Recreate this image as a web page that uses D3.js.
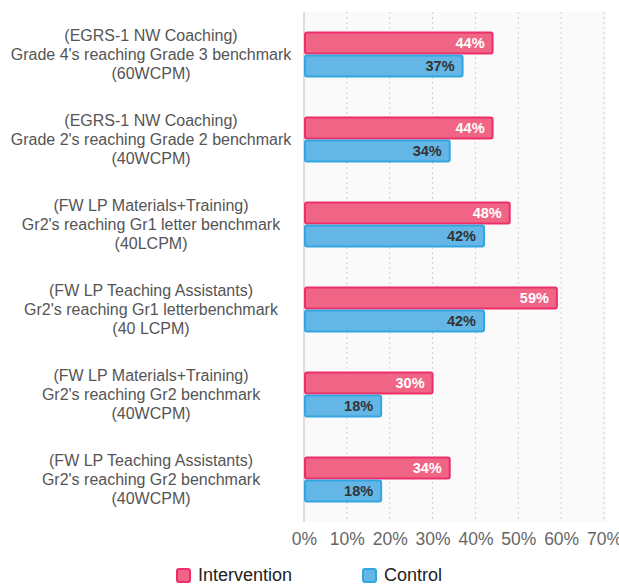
<!DOCTYPE html>
<html lang="en">
<head>
<meta charset="UTF-8">
<title>Benchmark results</title>
<script src="https://cdn.jsdelivr.net/npm/d3@7"></script>
<style>
  body { margin: 0; background: #fff; }
  svg text { font-family: "Liberation Sans", Arial, sans-serif; }
</style>
</head>
<body>
<svg id="chart"></svg>
<script>
const categories = [
  ["(EGRS-1 NW Coaching)", "Grade 4's reaching Grade 3 benchmark", "(60WCPM)"],
  ["(EGRS-1 NW Coaching)", "Grade 2's reaching Grade 2 benchmark", "(40WCPM)"],
  ["(FW LP Materials+Training)", "Gr2's reaching Gr1 letter benchmark", "(40LCPM)"],
  ["(FW LP Teaching Assistants)", "Gr2's reaching Gr1 letterbenchmark", "(40 LCPM)"],
  ["(FW LP Materials+Training)", "Gr2's reaching Gr2 benchmark", "(40WCPM)"],
  ["(FW LP Teaching Assistants)", "Gr2's reaching Gr2 benchmark", "(40WCPM)"]
];
const intervention = [44, 44, 48, 59, 30, 34];
const control = [37, 34, 42, 42, 18, 18];
const xTicks = [0, 10, 20, 30, 40, 50, 60, 70];
const seriesNames = ["Intervention", "Control"];

const W = 619, H = 584;
const margin = { top: 12, right: 13, bottom: 62, left: 304 };
const width = W - margin.left - margin.right;
const height = H - margin.top - margin.bottom;

const svg = d3.select('#chart').attr('width', W).attr('height', H);
const g = svg.append('g').attr('transform', `translate(${margin.left},${margin.top})`);

const x = d3.scaleLinear().domain([0, 70]).range([0, 300]);
const y = d3.scaleBand().domain(d3.range(categories.length)).range([0, height]);
const sub = d3.scaleBand().domain([0, 1]).range([y.bandwidth() / 2 - 22, y.bandwidth() / 2 + 22]).paddingInner(0.08);

g.append('rect')
  .attr('width', x(70) + 2).attr('height', height)
  .attr('fill', '#fafafa');

// dotted gridlines
g.selectAll('.grid')
  .data(xTicks.slice(1))
  .enter().append('line')
  .attr('x1', d => x(d)).attr('x2', d => x(d))
  .attr('y1', 0).attr('y2', height)
  .attr('stroke', '#d0d0d0')
  .attr('stroke-dasharray', '2,3');

g.append('line')
  .attr('x1', 0).attr('x2', 0).attr('y1', 0).attr('y2', height)
  .attr('stroke', '#ddd').attr('stroke-width', 2);

const colors = [
  { fill: '#f06585', stroke: '#ec2f6b', text: '#fff' },
  { fill: '#64b6e6', stroke: '#32a6e0', text: '#333' }
];
const series = [intervention, control];

series.forEach((vals, s) => {
  const grp = g.append('g');
  grp.selectAll('rect')
    .data(vals)
    .enter().append('rect')
    .attr('x', x(0) + 1)
    .attr('y', (d, i) => y(i) + sub(s))
    .attr('width', d => x(d) - x(0) - 1)
    .attr('height', sub.bandwidth())
    .attr('rx', 2)
    .attr('fill', colors[s].fill)
    .attr('stroke', colors[s].stroke)
    .attr('stroke-width', 2);
  grp.selectAll('text')
    .data(vals)
    .enter().append('text')
    .attr('x', d => x(d) - 8)
    .attr('y', (d, i) => y(i) + sub(s) + sub.bandwidth() / 2)
    .attr('dy', '0.36em')
    .attr('text-anchor', 'end')
    .attr('font-size', 14.5)
    .attr('font-weight', 'bold')
    .attr('fill', colors[s].text)
    .text(d => d + '%');
});

// category labels
const labels = g.selectAll('.cat')
  .data(categories)
  .enter().append('text')
  .attr('class', 'cat')
  .attr('text-anchor', 'middle')
  .attr('font-size', 16)
  .attr('fill', '#555')
  .attr('transform', (d, i) => `translate(${151 - margin.left},${y(i) + y.bandwidth() / 2})`);
labels.selectAll('tspan')
  .data(d => d)
  .enter().append('tspan')
  .attr('x', 0)
  .attr('y', (d, i) => (i - 1) * 19)
  .attr('dy', '0.36em')
  .text(d => d);

// x axis
const xAxis = g.append('g')
  .attr('transform', `translate(0,${height})`)
  .call(d3.axisBottom(x).tickValues(xTicks).tickFormat(d => d + '%').tickSize(0).tickPadding(11));
xAxis.select('.domain').remove();
xAxis.selectAll('text')
  .attr('font-size', 17.5)
  .attr('font-family', '"Liberation Sans", Arial, sans-serif')
  .attr('fill', '#666');

// legend
const legendX = [176, 362];
const legend = svg.selectAll('.legend')
  .data(seriesNames)
  .enter().append('g')
  .attr('transform', (d, i) => `translate(${legendX[i]},${575})`);
legend.append('rect')
  .attr('x', 1).attr('y', -6).attr('width', 13).attr('height', 13).attr('rx', 2)
  .attr('fill', (d, i) => colors[i].fill)
  .attr('stroke', (d, i) => colors[i].stroke)
  .attr('stroke-width', 2);
legend.append('text')
  .attr('x', 22).attr('dy', '0.36em')
  .attr('font-size', 18)
  .attr('fill', '#222')
  .text(d => d);
</script>
</body>
</html>
